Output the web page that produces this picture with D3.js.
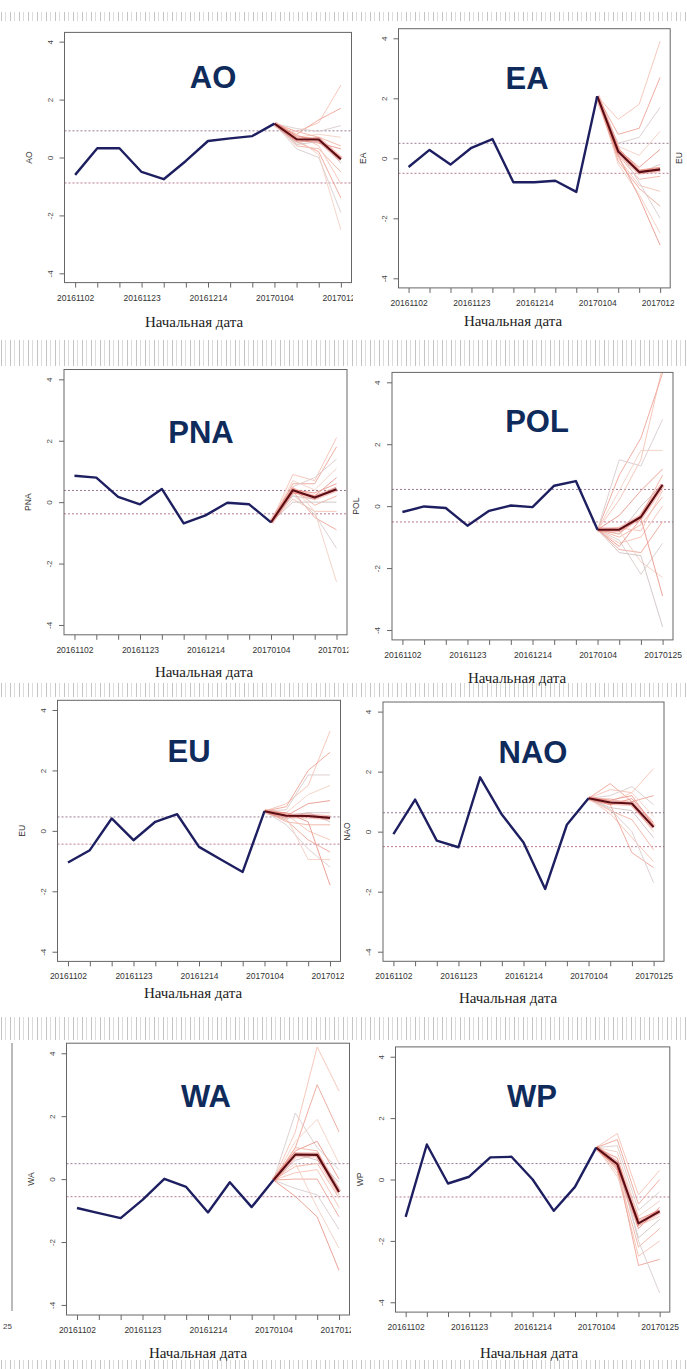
<!DOCTYPE html>
<html>
<head>
<meta charset="utf-8">
<script src="https://cdn.jsdelivr.net/npm/d3@7"></script>
<style>
body { margin: 0; background: #fff; }
svg { display: block; }
</style>
</head>
<body>
<svg id="chart" width="687" height="1369"></svg>
<script>
// start dates of the weekly forecasts
var dates = ["20161102","20161109","20161116","20161123","20161130","20161207","20161214",
             "20161221","20161228","20170104","20170111","20170118","20170125"];
var yTicks = [-4, -2, 0, 2, 4];
var names = ["AO", "EA", "PNA", "POL", "EU", "NAO", "WA", "WP"];
var xTitle = "Начальная дата";

// observed index (20161102 .. 20170104)
var obsAO  = [-0.6, 0.32, 0.32, -0.5, -0.75, -0.12, 0.57, 0.66, 0.74, 1.17];
var obsEA  = [-0.29, 0.28, -0.21, 0.35, 0.64, -0.8, -0.8, -0.75, -1.12, 2.07];
var obsPNA = [0.86, 0.8, 0.17, -0.07, 0.43, -0.69, -0.43, -0.02, -0.07, -0.66];
var obsPOL = [-0.19, -0.01, -0.06, -0.63, -0.15, 0.02, -0.03, 0.66, 0.81, -0.76];
var obsEU  = [-1.05, -0.64, 0.41, -0.31, 0.3, 0.55, -0.53, -0.95, -1.36, 0.65];
var obsNAO = [-0.08, 1.07, -0.3, -0.52, 1.81, 0.57, -0.36, -1.91, 0.23, 1.11];
var obsWA  = [-0.92, -1.08, -1.24, -0.66, 0.01, -0.25, -1.06, -0.1, -0.89, -0.03];
var obsWP  = [-1.22, 1.14, -0.13, 0.09, 0.72, 0.74, 0.0, -1.02, -0.24, 1.04];

// ensemble mean (20170111 .. 20170125)
var meanAO  = [0.63, 0.62, -0.06];
var meanEA  = [0.23, -0.46, -0.37];
var meanPNA = [0.39, 0.15, 0.42];
var meanPOL = [-0.76, -0.35, 0.69];
var meanEU  = [0.5, 0.49, 0.43];
var meanNAO = [0.97, 0.94, 0.15];
var meanWA  = [0.78, 0.77, -0.41];
var meanWP  = [0.5, -1.43, -1.04];

// ensemble members (20170111 .. 20170125)
var ensAO = [[0.9,1.2,2.5],[0.8,1.3,1.7],[1.0,0.9,1.1],[0.7,0.8,0.7],[0.6,0.5,0.3],[0.5,0.7,-0.2],
             [0.4,0.3,-0.5],[0.8,0.4,-0.9],[0.55,0.2,-1.4],[0.3,0.0,-1.9],[0.65,0.1,-2.5],
             [0.75,0.6,0.0],[0.45,0.55,-0.1],[0.9,0.7,0.4]];
var ensEA = [[1.3,1.8,3.9],[0.8,1.0,2.7],[0.5,0.7,1.7],[0.4,0.1,0.9],[0.3,-0.3,0.3],[0.2,-0.5,-0.2],
             [0.1,-0.7,-0.6],[0.0,-0.9,-1.1],[-0.1,-1.0,-1.6],[0.3,-0.8,-2.0],[-0.2,-1.2,-2.5],
             [0.1,-1.3,-2.9],[0.25,-0.45,-0.4],[0.35,-0.4,-0.3]];
var ensPNA = [[0.9,0.7,2.1],[0.6,0.6,1.8],[0.5,0.8,1.4],[0.7,0.4,1.1],[0.3,0.2,0.8],[0.2,0.1,0.5],
              [0.45,-0.1,0.2],[0.1,-0.3,-0.3],[0.35,-0.5,-0.9],[0.25,-0.4,-1.5],[0.5,-0.3,-2.6],
              [0.4,0.3,0.6],[0.0,0.0,0.0]];
var ensPOL = [[0.2,1.5,4.5],[1.0,2.2,4.3],[1.5,1.3,2.8],[0.5,1.8,1.8],[-0.3,0.5,1.2],[-0.9,0.0,0.7],
              [-1.0,-0.6,0.3],[-1.2,-1.0,0.0],[-1.4,-1.5,-0.5],[-1.1,-2.2,-1.2],[-0.8,-1.8,-2.3],
              [-1.3,-0.4,-2.9],[-1.5,-1.6,-3.9],[-0.9,-0.3,1.0],[-0.7,-0.8,0.5]];
var ensEU = [[0.9,1.5,3.3],[0.8,2.0,2.6],[0.7,1.85,1.85],[0.6,1.2,1.5],[0.5,0.9,1.0],[0.4,0.6,0.6],
             [0.3,0.2,0.2],[0.55,0.0,-0.3],[0.35,-0.3,-0.7],[0.2,-0.6,-1.2],[0.45,-0.95,-0.95],
             [0.6,0.3,-1.8],[0.5,0.6,0.3]];
var ensNAO = [[1.4,1.3,2.1],[1.6,1.0,1.2],[1.2,1.5,0.9],[1.0,1.3,0.5],[0.9,1.1,0.3],[0.8,0.7,-0.2],
              [0.7,0.4,-0.6],[0.6,-0.2,-1.0],[0.9,-0.7,-1.2],[0.75,0.0,-1.7],[1.1,0.9,0.0],
              [1.05,1.2,0.2]];
var ensWA = [[1.5,4.2,2.8],[1.0,3.0,1.5],[2.1,1.0,0.3],[1.2,1.9,0.5],[0.9,1.2,0.0],[0.6,0.8,-0.3],
             [0.4,0.5,-0.6],[0.2,0.3,-0.9],[0.0,0.0,-1.2],[-0.3,-0.5,-1.6],[0.5,-0.9,-2.2],
             [-0.55,-1.2,-2.9],[0.8,0.6,-0.1],[1.0,0.9,-0.5]];
var ensWP = [[1.5,-0.5,0.3],[1.3,-0.8,0.0],[1.1,-1.0,-0.4],[0.9,-1.2,-0.7],[0.7,-1.6,-0.9],
             [0.5,-1.9,-1.3],[0.3,-2.2,-1.6],[0.2,-2.5,-2.0],[0.4,-2.8,-2.6],[0.6,-2.0,-3.7],
             [0.1,-1.5,-1.2],[0.35,-1.3,-1.0]];

// dotted reference levels (upper, lower)
var limAO  = [0.92, -0.88];
var limEA  = [0.5, -0.5];
var limPNA = [0.38, -0.38];
var limPOL = [0.54, -0.51];
var limEU  = [0.46, -0.44];
var limNAO = [0.63, -0.5];
var limWA  = [0.49, -0.56];
var limWP  = [0.52, -0.57];

var observed = [obsAO, obsEA, obsPNA, obsPOL, obsEU, obsNAO, obsWA, obsWP];
var means    = [meanAO, meanEA, meanPNA, meanPOL, meanEU, meanNAO, meanWA, meanWP];
var members  = [ensAO, ensEA, ensPNA, ensPOL, ensEU, ensNAO, ensWA, ensWP];
var limits   = [limAO, limEA, limPNA, limPOL, limEU, limNAO, limWA, limWP];

// where each panel sits on the page (plot box, crop edge, title spots)
var boxes = [
  {l: 64.5, t: 32.4,  r: 351.5, b: 282.6,  crop: 353,   title: [213, 88],   xlab: [194, 327]},
  {l: 398.5, t: 28.7, r: 670.2, b: 287.9,  crop: 674.5, title: [527, 89],   xlab: [513, 326]},
  {l: 64,   t: 369.5, r: 347,   b: 634.8,  crop: 348.5, title: [201, 443],  xlab: [204, 677]},
  {l: 392,  t: 372.4, r: 673,   b: 639.9,  crop: 687,   title: [537, 432],  xlab: [517, 683]},
  {l: 57.5, t: 700.3, r: 340.5, b: 961.4,  crop: 344,   title: [189, 762],  xlab: [193, 998]},
  {l: 383,  t: 702,   r: 664,   b: 961.3,  crop: 687,   title: [533, 763],  xlab: [508, 1003]},
  {l: 66.5, t: 1043.2, r: 349.5, b: 1315,  crop: 351,   title: [206, 1107], xlab: [198, 1358]},
  {l: 395.5, t: 1046.9, r: 669.8, b: 1312.1, crop: 687, title: [532, 1107], xlab: [529, 1358]}
];

var memberColors = ["#f5c2b4", "#eda597", "#d9cccc", "#f3cfc3", "#e9998d", "#d0c3c3", "#f1b3a4"];

var svg = d3.select("#chart");
var defs = svg.append("defs");

// faint scan stripes between the rows of the collage
var stripes = [[12, 21], [340, 366], [683, 697], [1017, 1040], [1360, 1369]];
var pat = defs.append("pattern").attr("id", "scan")
    .attr("width", 9).attr("height", 4).attr("patternUnits", "userSpaceOnUse");
pat.append("rect").attr("x", 1).attr("width", 1).attr("height", 4).attr("fill", "#c4c4c4");
pat.append("rect").attr("x", 5).attr("width", 1).attr("height", 4).attr("fill", "#dcdcdc");
svg.selectAll("rect.scan").data(stripes).enter().append("rect")
    .attr("class", "scan")
    .attr("x", 0).attr("width", 687)
    .attr("y", function(d) { return d[0]; })
    .attr("height", function(d) { return d[1] - d[0]; })
    .attr("fill", "url(#scan)");

function drawPanel(i) {
  var bx = boxes[i];
  var x = d3.scaleLinear().domain([-0.48, 12.48]).range([bx.l, bx.r]);
  var y = d3.scaleLinear().domain([-4.32, 4.32]).range([bx.b, bx.t]);

  defs.append("clipPath").attr("id", "crop" + i).append("rect")
      .attr("x", bx.l - 60).attr("y", bx.t - 20)
      .attr("width", bx.crop - bx.l + 60).attr("height", bx.b - bx.t + 90);
  defs.append("clipPath").attr("id", "plot" + i).append("rect")
      .attr("x", bx.l).attr("y", bx.t)
      .attr("width", bx.r - bx.l).attr("height", bx.b - bx.t);

  var g = svg.append("g").attr("clip-path", "url(#crop" + i + ")");
  var plot = g.append("g").attr("clip-path", "url(#plot" + i + ")");

  // dotted reference levels
  plot.selectAll("line.lim").data(limits[i]).enter().append("line")
      .attr("class", "lim")
      .attr("x1", bx.l).attr("x2", bx.r)
      .attr("y1", function(d) { return y(d); })
      .attr("y2", function(d) { return y(d); })
      .attr("stroke", function(d, k) { return k == 0 ? "#9a7a92" : "#b97a92"; })
      .attr("stroke-width", 1)
      .attr("stroke-dasharray", "2,2");

  var start = observed[i][9];
  var fcLine = d3.line()
      .x(function(d, j) { return x(j + 9); })
      .y(function(d) { return y(d); });

  // ensemble members
  plot.selectAll("path.member").data(members[i]).enter().append("path")
      .attr("class", "member")
      .attr("d", function(d) { return fcLine([start].concat(d)); })
      .attr("fill", "none")
      .attr("stroke", function(d, k) { return memberColors[k % memberColors.length]; })
      .attr("stroke-width", 0.9);

  // ensemble mean
  var meanPts = [start].concat(means[i]);
  plot.append("path").attr("d", fcLine(meanPts))
      .attr("fill", "none").attr("stroke", "#e8675a")
      .attr("stroke-width", 5).attr("opacity", 0.4);
  plot.append("path").attr("d", fcLine(meanPts))
      .attr("fill", "none").attr("stroke", "#5a0d14")
      .attr("stroke-width", 2.1).attr("stroke-linejoin", "round");

  // observed index
  var obsLine = d3.line()
      .x(function(d, j) { return x(j); })
      .y(function(d) { return y(d); });
  plot.append("path").attr("d", obsLine(observed[i]))
      .attr("fill", "none").attr("stroke", "#1d1f60")
      .attr("stroke-width", 2.4).attr("stroke-linejoin", "round");

  // box
  g.append("rect")
      .attr("x", bx.l).attr("y", bx.t)
      .attr("width", bx.r - bx.l).attr("height", bx.b - bx.t)
      .attr("fill", "none").attr("stroke", "#666").attr("stroke-width", 1);

  // x axis
  var xAxis = d3.axisBottom(x)
      .tickValues(d3.range(dates.length))
      .tickSize(5).tickSizeOuter(0).tickPadding(7)
      .tickFormat(function(d) { return d % 3 == 0 ? dates[d] : ""; });
  var gx = g.append("g").attr("transform", "translate(0," + bx.b + ")").call(xAxis);
  gx.select(".domain").remove();
  gx.selectAll(".tick line").attr("stroke", "#666");
  gx.selectAll(".tick text")
      .attr("fill", "#333")
      .style("font-family", "'Liberation Sans', Arial, sans-serif")
      .style("font-size", "8.5px");

  // y axis
  var yAxis = d3.axisLeft(y)
      .tickValues(yTicks)
      .tickSize(5).tickSizeOuter(0)
      .tickFormat(function(d) { return String(d); });
  var gy = g.append("g").attr("transform", "translate(" + bx.l + ",0)").call(yAxis);
  gy.select(".domain").remove();
  gy.selectAll(".tick line").attr("stroke", "#666");
  gy.selectAll(".tick text")
      .attr("x", 0).attr("dy", 0)
      .attr("transform", "translate(-12,0) rotate(-90)")
      .attr("text-anchor", "middle")
      .attr("fill", "#444")
      .style("font-family", "'Liberation Sans', Arial, sans-serif")
      .style("font-size", "8px");

  // y axis title
  g.append("text")
      .attr("transform", "translate(" + (bx.l - 33) + "," + ((bx.t + bx.b) / 2) + ") rotate(-90)")
      .attr("text-anchor", "middle")
      .attr("fill", "#333")
      .style("font-family", "'Liberation Sans', Arial, sans-serif")
      .style("font-size", "8.5px")
      .text(names[i]);

  // x axis title
  g.append("text")
      .attr("x", bx.xlab[0]).attr("y", bx.xlab[1])
      .attr("text-anchor", "middle")
      .attr("fill", "#222")
      .style("font-family", "'Liberation Serif', 'Times New Roman', serif")
      .style("font-size", "15px")
      .text(xTitle);

  // big index name
  g.append("text")
      .attr("x", bx.title[0]).attr("y", bx.title[1])
      .attr("text-anchor", "middle")
      .attr("fill", "#0f2b5b")
      .style("font-family", "'Liberation Sans', Arial, sans-serif")
      .style("font-weight", "bold")
      .style("font-size", "31px")
      .text(names[i]);
}

d3.range(names.length).forEach(drawPanel);

// bits of neighbouring panels left in the collage
svg.append("text")
    .attr("transform", "translate(682,158) rotate(-90)")
    .attr("text-anchor", "middle").attr("fill", "#333")
    .style("font-family", "'Liberation Sans', Arial, sans-serif")
    .style("font-size", "8.5px")
    .text("EU");
svg.append("line")
    .attr("x1", 12).attr("x2", 12).attr("y1", 1043).attr("y2", 1311)
    .attr("stroke", "#777").attr("stroke-width", 1);
svg.append("text")
    .attr("x", 3).attr("y", 1329).attr("fill", "#444")
    .style("font-family", "'Liberation Sans', Arial, sans-serif")
    .style("font-size", "8px")
    .text("25");
</script>
</body>
</html>
